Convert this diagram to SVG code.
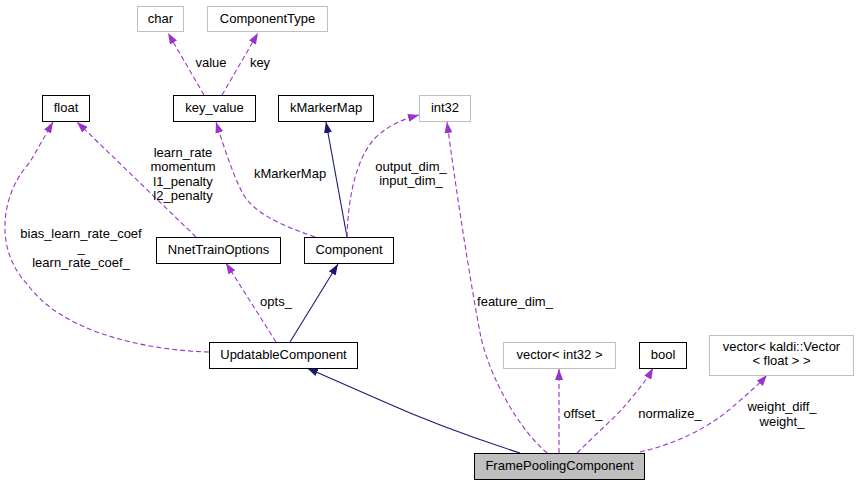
<svg xmlns="http://www.w3.org/2000/svg" width="857" height="485" viewBox="0 0 857 485">
<defs>
<marker id="ap" viewBox="0 0 11 8" refX="11" refY="4" markerWidth="11" markerHeight="8" markerUnits="userSpaceOnUse" orient="auto"><path d="M0,0 L11,4 L0,8 z" fill="#9a32cd"/></marker>
<marker id="an" viewBox="0 0 11 8" refX="11" refY="4" markerWidth="11" markerHeight="8" markerUnits="userSpaceOnUse" orient="auto"><path d="M0,0 L11,4 L0,8 z" fill="#191970"/></marker>
</defs>
<style>
text{font-family:"Liberation Sans",Arial,sans-serif;font-size:13px;fill:#000}
.n text,.t{text-anchor:middle}
.b{fill:#fff;stroke:#000;stroke-width:1}
.g{fill:#fff;stroke:#bfbfbf;stroke-width:1}
.u{fill:none;stroke:#9a32cd;stroke-width:1.1;stroke-dasharray:5,3;marker-end:url(#ap)}
.i{fill:none;stroke:#191970;stroke-width:1.1;marker-end:url(#an)}
</style>
<rect width="857" height="485" fill="#fff"/>
<g id="edges">
<path class="u" d="M204,95 L168,33"/>
<path class="u" d="M222,95 L258,33"/>
<path class="u" d="M196,237 L77,122"/>
<path class="u" d="M209,352 C140,350 60,330 28,285 C-6,250 0,195 30,162 L53,122"/>
<path class="u" d="M315,237 C280,225 252,212 242,192 C232,172 225,150 216,122"/>
<path class="i" d="M347,237 L326,122"/>
<path class="u" d="M347,237 C348,200 355,160 375,138 C388,126 400,120 419,115"/>
<path class="u" d="M276,342 L226,263"/>
<path class="i" d="M290,342 L338,264"/>
<path class="i" d="M520,453 C470,437 420,418 380,400 C355,389 330,378 307,368"/>
<path class="u" d="M547,453 C515,425 490,375 481,338 C470,280 456,190 447,122"/>
<path class="u" d="M559,453 L559,369"/>
<path class="u" d="M577,453 C595,435 612,420 623,408 C633,396 645,383 653,368"/>
<path class="u" d="M640,452 C675,444 710,428 737,403 C750,392 760,383 767,375"/>
<text class="t" x="211" y="67">value</text>
<text class="t" x="260" y="67">key</text>
<text class="t" x="183" y="157">learn_rate</text>
<text class="t" x="183" y="171">momentum</text>
<text class="t" x="183" y="186">l1_penalty</text>
<text class="t" x="183" y="200">l2_penalty</text>
<text class="t" x="290" y="178">kMarkerMap</text>
<text class="t" x="411" y="171">output_dim_</text>
<text class="t" x="411" y="185">input_dim_</text>
<text class="t" x="81" y="238">bias_learn_rate_coef</text>
<text class="t" x="81" y="252">_</text>
<text class="t" x="81" y="267">learn_rate_coef_</text>
<text class="t" x="276" y="306">opts_</text>
<text class="t" x="515" y="306">feature_dim_</text>
<text class="t" x="583" y="418">offset_</text>
<text class="t" x="670" y="418">normalize_</text>
<text class="t" x="782" y="411">weight_diff_</text>
<text class="t" x="782" y="426">weight_</text>
</g>
<g id="char" class="n"><rect class="g" x="137.5" y="6.5" width="46" height="25"/><text x="160.5" y="23">char</text></g>
<g id="ComponentType" class="n"><rect class="g" x="207.5" y="6.5" width="120" height="25"/><text x="267.5" y="23">ComponentType</text></g>
<g id="float" class="n"><rect class="b" x="42.5" y="95.5" width="47" height="26"/><text x="66" y="112">float</text></g>
<g id="key_value" class="n"><rect class="b" x="173.5" y="95.5" width="82" height="26"/><text x="214.5" y="112">key_value</text></g>
<g id="kMarkerMap" class="n"><rect class="b" x="278.5" y="95.5" width="95" height="26"/><text x="326" y="112">kMarkerMap</text></g>
<g id="int32" class="n"><rect class="g" x="419.5" y="95.5" width="51" height="26"/><text x="445" y="112">int32</text></g>
<g id="NnetTrainOptions" class="n"><rect class="b" x="156.5" y="237.5" width="124" height="26"/><text x="218.5" y="254">NnetTrainOptions</text></g>
<g id="Component" class="n"><rect class="b" x="304.5" y="237.5" width="89" height="26"/><text x="349" y="254">Component</text></g>
<g id="UpdatableComponent" class="n"><rect class="b" x="209.5" y="342.5" width="148" height="26"/><text x="283.5" y="359">UpdatableComponent</text></g>
<g id="vector_int32" class="n"><rect class="g" x="503.5" y="342.5" width="112" height="26"/><text x="559.5" y="359">vector&lt; int32 &gt;</text></g>
<g id="bool" class="n"><rect class="b" x="639.5" y="342.5" width="47" height="26"/><text x="663" y="359">bool</text></g>
<g id="vector_kaldi_Vector" class="n"><rect class="g" x="709.5" y="335.5" width="144" height="40"/><text x="781.5" y="351">vector&lt; kaldi::Vector</text><text x="781.5" y="365">&lt; float &gt; &gt;</text></g>
<g id="FramePoolingComponent" class="n"><rect x="474.5" y="453.5" width="170" height="26" fill="#bfbfbf" stroke="#000"/><text x="559.5" y="470">FramePoolingComponent</text></g>
</svg>
